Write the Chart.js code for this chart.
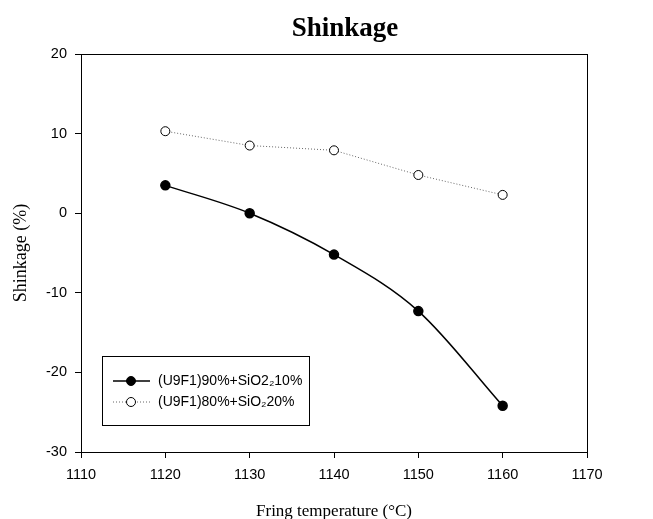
<!DOCTYPE html>
<html>
<head>
<meta charset="utf-8">
<script src="https://cdn.jsdelivr.net/npm/chart.js@4/dist/chart.umd.min.js"></script>
<style>
  html, body { margin: 0; padding: 0; background: #fff; }
  #wrap { width: 653px; height: 519px; }
</style>
</head>
<body>
<div id="wrap"><canvas id="c"></canvas></div>
<script>
// Shrinkage vs firing temperature, two mixes.
const temps = [1120, 1130, 1140, 1150, 1160];
const shrink90 = [3.5, 0.0, -5.2, -12.3, -24.2];
const shrink80 = [10.3, 8.5, 7.9, 4.8, 2.3];
const seriesNames = ['(U9F1)90%+SiO2\u208210%', '(U9F1)80%+SiO\u208220%'];
const xTicks = [1110, 1120, 1130, 1140, 1150, 1160, 1170];
const yTicks = [-30, -20, -10, 0, 10, 20];
const chartTitle = 'Shinkage';

const SANS = '"Liberation Sans", Arial, sans-serif';
const SERIF = '"Liberation Serif", "Times New Roman", serif';

const toPoints = (ys) => temps.map((t, i) => ({ x: t, y: ys[i] }));

// title, frame on top/right, and the boxed legend inside the plot
const framePlugin = {
    id: 'frame',
    afterDraw(chart) {
        const { ctx, chartArea: a } = chart;
        ctx.save();
        ctx.fillStyle = '#000';
        ctx.font = 'bold 27px ' + SERIF;
        ctx.textAlign = 'center';
        ctx.textBaseline = 'middle';
        ctx.fillText(chartTitle, (a.left + a.right) / 2 + 11, 29);
        ctx.textAlign = 'left';

        ctx.strokeStyle = '#000';
        ctx.lineWidth = 1;
        ctx.strokeRect(a.left + 0.5, a.top + 0.5, a.right - a.left, a.bottom - a.top);

        // legend box
        const bx = a.left + 21, by = a.bottom - 96, bw = 207, bh = 69;
        ctx.strokeRect(bx + 0.5, by + 0.5, bw, bh);
        chart.data.datasets.forEach((ds, i) => {
            const cy = by + 25 + i * 21;
            ctx.strokeStyle = ds.borderColor;
            ctx.lineWidth = ds.borderWidth;
            ctx.setLineDash(ds.borderDash || []);
            ctx.beginPath();
            ctx.moveTo(bx + 11, cy);
            ctx.lineTo(bx + 48, cy);
            ctx.stroke();
            ctx.setLineDash([]);
            ctx.beginPath();
            ctx.arc(bx + 29, cy, ds.pointRadius, 0, Math.PI * 2);
            ctx.fillStyle = ds.pointBackgroundColor;
            ctx.fill();
            ctx.strokeStyle = '#000';
            ctx.lineWidth = 1;
            ctx.stroke();
            ctx.fillStyle = '#000';
            ctx.font = '14px ' + SANS;
            ctx.fillText(ds.label, bx + 56, cy);
        });
        ctx.restore();
    }
};

new Chart(document.getElementById('c').getContext('2d'), {
    type: 'line',
    data: {
        datasets: [{
            label: seriesNames[0],
            data: toPoints(shrink90),
            borderColor: '#000',
            borderWidth: 1.5,
            cubicInterpolationMode: 'monotone',
            pointRadius: 4.5,
            pointBackgroundColor: '#000',
            pointBorderColor: '#000',
        }, {
            label: seriesNames[1],
            data: toPoints(shrink80),
            borderColor: '#666',
            borderWidth: 1,
            borderDash: [1, 2],
            tension: 0,
            pointRadius: 4.5,
            pointBackgroundColor: '#fff',
            pointBorderColor: '#000',
            pointBorderWidth: 1,
        }],
    },
    options: {
        responsive: true,
        maintainAspectRatio: false,
        animation: false,
        layout: { padding: { left: 0, right: 66, top: 54, bottom: 0 } },
        plugins: {
            legend: { display: false },
            tooltip: { enabled: false },
            title: { display: false },
        },
        scales: {
            x: {
                type: 'linear',
                min: 1110,
                max: 1170,
                afterBuildTicks: (s) => { s.ticks = xTicks.map((v) => ({ value: v })); },
                afterFit: (s) => { s.height = 67; },
                ticks: {
                    color: '#000',
                    font: { family: SANS, size: 14.5 },
                    padding: 8,
                    callback: (v) => String(v),
                },
                grid: { drawOnChartArea: false, drawTicks: true, tickLength: 6, color: '#000' },
                border: { display: true, color: '#000', width: 1 },
                title: {
                    display: true,
                    text: 'Fring temperature (\u00B0C)',
                    color: '#000',
                    font: { family: SERIF, size: 17 },
                    padding: { top: 12, bottom: -3 },
                },
            },
            y: {
                min: -30,
                max: 20,
                afterBuildTicks: (s) => { s.ticks = yTicks.map((v) => ({ value: v })); },
                afterFit: (s) => { s.width = 81; },
                ticks: {
                    color: '#000',
                    font: { family: SANS, size: 14.5 },
                    padding: 8,
                },
                grid: { drawOnChartArea: false, drawTicks: true, tickLength: 6, color: '#000' },
                border: { display: true, color: '#000', width: 1 },
                title: {
                    display: true,
                    text: 'Shinkage (%)',
                    color: '#000',
                    font: { family: SERIF, size: 18 },
                    padding: { top: 10, bottom: 4 },
                },
            },
        },
    },
    plugins: [framePlugin],
});
</script>
</body>
</html>
